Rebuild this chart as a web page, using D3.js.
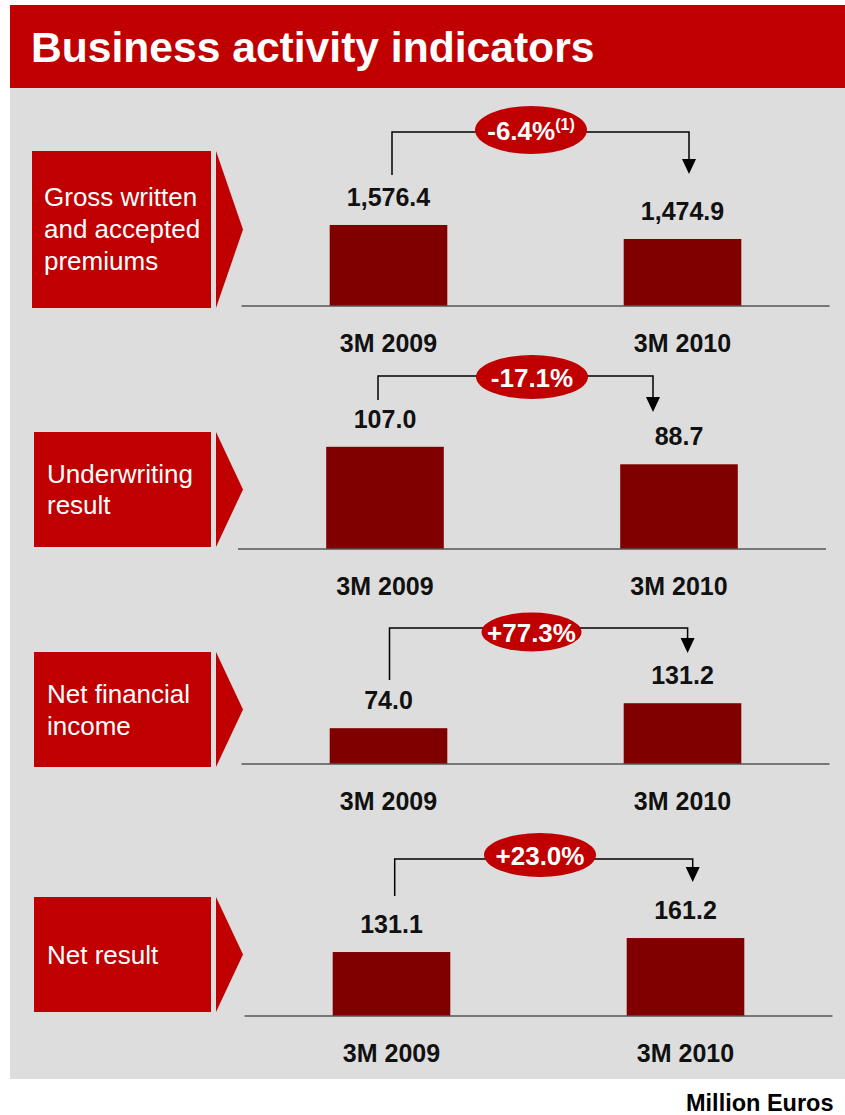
<!DOCTYPE html>
<html>
<head>
<meta charset="utf-8">
<script src="https://cdn.jsdelivr.net/npm/d3@7"></script>
<style>
  body { margin: 0; background: #fff; }
  text { font-family: Arial, "Liberation Sans", sans-serif; }
</style>
</head>
<body>
<div id="chart"></div>
<script>
// chart data
const categories = ["3M 2009", "3M 2010"];
const indicatorLines = [
    ["Gross written", "and accepted", "premiums"],
    ["Underwriting", "result"],
    ["Net financial", "income"],
    ["Net result"]
];
const values2009 = [1576.4, 107.0, 74.0, 131.1];
const values2010 = [1474.9, 88.7, 131.2, 161.2];
const changeLabels = ["-6.4%", "-17.1%", "+77.3%", "+23.0%"];
const changeNotes = ["(1)", "", "", ""];
const unitLabel = "Million Euros";
const titleText = "Business activity indicators";

const RED = "#C00000";
const DARK_RED = "#800000";
const GRAY = "#DDDDDD";

// per panel layout (positions only, the source slide uses its own scale per panel)
const panels = [
    {boxY: 151, boxH: 157, textX: 44, textY: 206, lineH: 32, axisY: 306, x0: 241.5, yDomain: [989, 1714],
     brY: 132, lx: 392, lBottom: 175, rx: 689, tip: 174, ecx: 531, ecy: 130, erx: 56, ery: 24},
    {boxY: 432, boxH: 115, textX: 47, textY: 483, lineH: 31, axisY: 549, x0: 238, yDomain: [0, 104.7],
     brY: 376, lx: 378, lBottom: 400, rx: 653, tip: 412, ecx: 532, ecy: 377, erx: 56, ery: 22},
    {boxY: 652, boxH: 115, textX: 47, textY: 703, lineH: 32, axisY: 764, x0: 241.5, yDomain: [-8, 221],
     brY: 628, lx: 389.5, lBottom: 680, rx: 687.6, tip: 653, ecx: 531.5, ecy: 632, erx: 50, ery: 19.5},
    {boxY: 897, boxH: 115, textX: 47, textY: 964, lineH: 32, axisY: 1016, x0: 244.5, yDomain: [-6.5, 208.6],
     brY: 859, lx: 394.7, lBottom: 896, rx: 692.7, tip: 882, ecx: 540, ecy: 855, erx: 56, ery: 22}
];

const W = 845, H = 1115;
const fmt = d3.format(",.1f");

let svg = d3.select("#chart").append("svg")
    .attr("width", W)
    .attr("height", H);

// title bar and grey panel
svg.append("rect").attr("x", 10).attr("y", 5).attr("width", W - 10).attr("height", 83).attr("fill", RED);
svg.append("text")
    .attr("x", 31).attr("y", 62)
    .attr("fill", "#fff")
    .attr("font-size", 42.6)
    .attr("font-weight", "bold")
    .text(titleText);
svg.append("rect").attr("x", 10).attr("y", 88).attr("width", W - 10).attr("height", 991).attr("fill", GRAY);

svg.append("text")
    .attr("x", 686).attr("y", 1111)
    .attr("font-size", 23.5)
    .attr("font-weight", "bold")
    .attr("fill", "#000")
    .text(unitLabel);

/**
 * Draw one indicator: red label box, the two bars and the change bracket
 */
function drawPanel(i) {
    let p = panels[i];
    let g = svg.append("g");
    let vals = [values2009[i], values2010[i]];

    // label box with chevron
    let boxX = i == 0 ? 32 : 34;
    g.append("rect")
        .attr("x", boxX).attr("y", p.boxY)
        .attr("width", 211 - boxX).attr("height", p.boxH)
        .attr("fill", RED);
    let mid = p.boxY + p.boxH / 2;
    g.append("polygon")
        .attr("points", [[216, p.boxY], [243, mid], [216, p.boxY + p.boxH]].join(" "))
        .attr("fill", RED);
    let lbl = g.append("text")
        .attr("fill", "#fff")
        .attr("font-size", 26);
    indicatorLines[i].forEach(function(line, k) {
        lbl.append("tspan")
            .attr("x", p.textX)
            .attr("y", p.textY + k * p.lineH)
            .text(line);
    });

    let x = d3.scaleBand()
        .domain(categories)
        .range([p.x0, p.x0 + 588])
        .paddingInner(0.6)
        .paddingOuter(0.3);
    let y = d3.scaleLinear()
        .domain(p.yDomain)
        .range([p.axisY, p.axisY - 100]);

    g.selectAll(".bar")
        .data(vals)
        .enter().append("rect")
        .attr("class", "bar")
        .attr("x", (d, k) => x(categories[k]))
        .attr("y", d => y(d))
        .attr("width", x.bandwidth())
        .attr("height", d => p.axisY - y(d))
        .attr("fill", DARK_RED);

    g.selectAll(".val")
        .data(vals)
        .enter().append("text")
        .attr("class", "val")
        .attr("x", (d, k) => x(categories[k]) + x.bandwidth() / 2)
        .attr("y", d => y(d) - 19)
        .attr("text-anchor", "middle")
        .attr("font-size", 25)
        .attr("font-weight", "bold")
        .attr("fill", "#111")
        .text(d => fmt(d));

    // baseline and category labels
    g.append("line")
        .attr("x1", p.x0).attr("x2", p.x0 + 588)
        .attr("y1", p.axisY).attr("y2", p.axisY)
        .attr("stroke", "#555").attr("stroke-width", 1.5);
    g.selectAll(".cat")
        .data(categories)
        .enter().append("text")
        .attr("class", "cat")
        .attr("x", d => x(d) + x.bandwidth() / 2)
        .attr("y", p.axisY + 46)
        .attr("text-anchor", "middle")
        .attr("font-size", 25)
        .attr("font-weight", "bold")
        .attr("fill", "#111")
        .text(d => d);

    // change bracket
    g.append("path")
        .attr("d", "M" + p.lx + "," + p.lBottom + "V" + p.brY + "H" + p.rx + "V" + (p.tip - 14))
        .attr("fill", "none")
        .attr("stroke", "#000")
        .attr("stroke-width", 1.5);
    g.append("polygon")
        .attr("points", [[p.rx - 7, p.tip - 15], [p.rx + 7, p.tip - 15], [p.rx, p.tip]].join(" "))
        .attr("fill", "#000");
    g.append("ellipse")
        .attr("cx", p.ecx).attr("cy", p.ecy)
        .attr("rx", p.erx).attr("ry", p.ery)
        .attr("fill", RED);
    let pct = g.append("text")
        .attr("x", p.ecx).attr("y", p.ecy + 9.5)
        .attr("text-anchor", "middle")
        .attr("font-size", 26)
        .attr("font-weight", "bold")
        .attr("fill", "#fff")
        .text(changeLabels[i]);
    if (changeNotes[i]) {
        pct.append("tspan")
            .attr("font-size", 16)
            .attr("dy", -10)
            .text(changeNotes[i]);
    }
}

for (let i = 0; i < panels.length; i++) {
    drawPanel(i);
}
</script>
</body>
</html>
